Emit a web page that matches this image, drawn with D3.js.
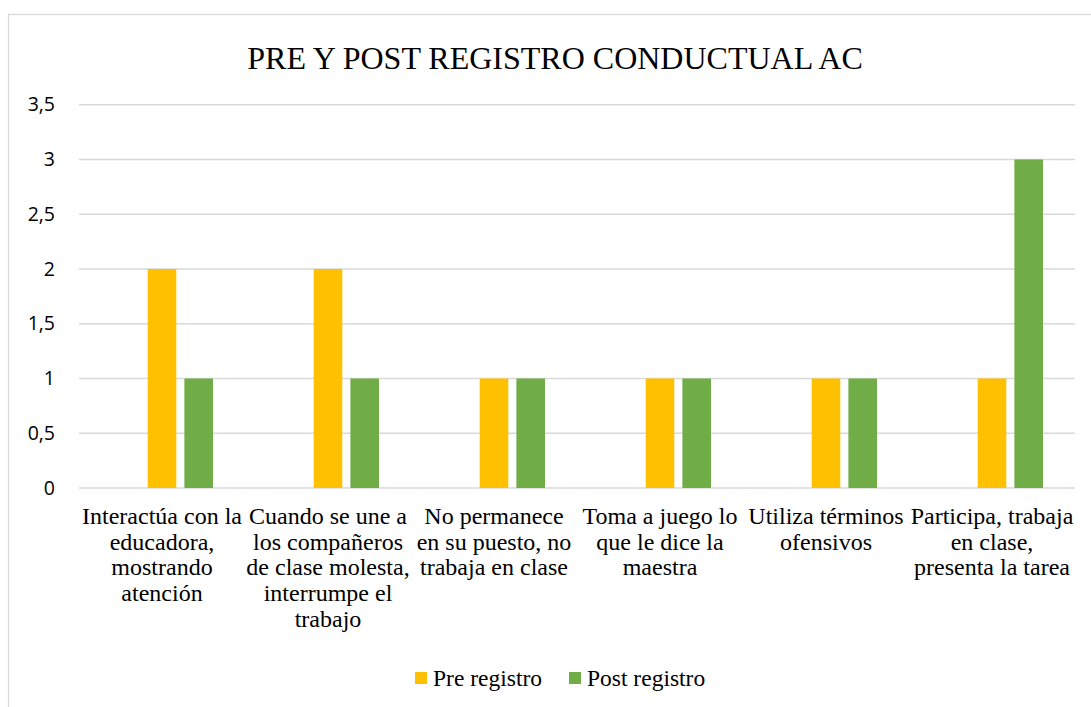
<!DOCTYPE html>
<html>
<head>
<meta charset="utf-8">
<script src="https://cdn.jsdelivr.net/npm/d3@7"></script>
<style>
    body { margin: 0; background: #fff; }
</style>
</head>
<body>
<div id="chart"></div>
<script>
// categories (line breaks as in the original chart)
var categories = [
    "Interactúa con la\neducadora,\nmostrando\natención",
    "Cuando se une a\nlos compañeros\nde clase molesta,\ninterrumpe el\ntrabajo",
    "No permanece\nen su puesto, no\ntrabaja en clase",
    "Toma a juego lo\nque le dice la\nmaestra",
    "Utiliza términos\nofensivos",
    "Participa, trabaja\nen clase,\npresenta la tarea"
]
var preValues = [2, 2, 1, 1, 1, 1]
var postValues = [1, 1, 1, 1, 1, 3]
var seriesNames = ["Pre registro", "Post registro"]
var seriesColors = ["#FFC000", "#70AD47"]
var yTicks = [0, 0.5, 1, 1.5, 2, 2.5, 3, 3.5]
var chartTitle = "PRE Y POST REGISTRO CONDUCTUAL AC"

var W = 1091, H = 707
var margin = { top: 104.7, right: 16, bottom: 219, left: 79 },
    width = W - margin.left - margin.right,
    height = H - margin.top - margin.bottom;

var root = d3.select("#chart")
    .append("svg")
    .attr("width", W)
    .attr("height", H)

// chart area border (runs off the right / bottom of the picture)
root.append("rect")
    .attr("x", 8.5).attr("y", 14.5)
    .attr("width", 1200).attr("height", 800)
    .attr("fill", "none")
    .attr("stroke", "#d9d9d9")
    .attr("stroke-width", 1.3)

root.append("text")
    .text(chartTitle)
    .attr("x", 555)
    .attr("y", 69)
    .attr("text-anchor", "middle")
    .style("font-family", "'Liberation Serif', 'Times New Roman', serif")
    .style("font-size", "32px")
    .style("fill", "#000")

var svg = root.append("g")
    .attr("transform", "translate(" + margin.left + "," + margin.top + ")")

var data = categories.map(function (c, i) {
    return { cat: c, "Pre registro": preValues[i], "Post registro": postValues[i] }
})

var x = d3.scaleBand()
    .domain(categories)
    .range([0, width])

// Excel left an empty first slot in each cluster
var x1 = d3.scaleBand()
    .domain(["(vacío)"].concat(seriesNames))
    .range([x.bandwidth() / 2 - 51, x.bandwidth() / 2 + 51])
    .paddingInner(0.22)

var y = d3.scaleLinear()
    .domain([0, 3.5])
    .range([height, 0])

// gridlines
svg.append("g")
    .selectAll("line")
    .data(yTicks)
    .enter()
    .append("line")
    .attr("x1", 0)
    .attr("x2", width)
    .attr("y1", function (d) { return y(d) })
    .attr("y2", function (d) { return y(d) })
    .attr("stroke", "#d9d9d9")
    .attr("stroke-width", 1.5)

// y axis labels
var yAxis = svg.append("g")
    .call(d3.axisLeft(y).tickValues(yTicks).tickSize(0).tickPadding(24)
        .tickFormat(function (d) { return String(d).replace(".", ",") }))
yAxis.select(".domain").remove()
yAxis.selectAll("text")
    .style("font-family", "'Open Sans', sans-serif")
    .style("font-size", "19.5px")
    .style("fill", "#000")

// bars
svg.append("g")
    .selectAll("g")
    .data(data)
    .enter()
    .append("g")
    .attr("transform", function (d) { return "translate(" + x(d.cat) + ",0)" })
    .selectAll("rect")
    .data(function (d) { return seriesNames.map(function (s, j) { return { key: s, value: d[s], color: seriesColors[j] } }) })
    .enter()
    .append("rect")
    .attr("x", function (d) { return x1(d.key) })
    .attr("width", x1.bandwidth())
    .attr("y", function (d) { return y(d.value) })
    .attr("height", function (d) { return height - y(d.value) })
    .attr("fill", function (d) { return d.color })

// category labels
var labels = svg.append("g")
    .selectAll("text")
    .data(categories)
    .enter()
    .append("text")
    .attr("x", function (d) { return x(d) + x.bandwidth() / 2 })
    .attr("y", height + 36)
    .attr("text-anchor", "middle")
    .style("font-family", "'Liberation Serif', 'Times New Roman', serif")
    .style("font-size", "24px")
    .style("fill", "#000")
labels.each(function (d) {
    var t = d3.select(this)
    d.split("\n").forEach(function (line, k) {
        t.append("tspan")
            .attr("x", x(d) + x.bandwidth() / 2)
            .attr("dy", k == 0 ? 0 : 25.7)
            .text(line)
    })
})

// legend
var legendX = [415, 569]
var legend = root.append("g")
seriesNames.forEach(function (s, j) {
    legend.append("rect")
        .attr("x", legendX[j]).attr("y", 672)
        .attr("width", 12).attr("height", 12)
        .attr("fill", seriesColors[j])
    legend.append("text")
        .text(s)
        .attr("x", legendX[j] + 18)
        .attr("y", 686)
        .style("font-family", "'Liberation Serif', 'Times New Roman', serif")
        .style("font-size", "23.5px")
        .style("fill", "#000")
})
</script>
</body>
</html>
